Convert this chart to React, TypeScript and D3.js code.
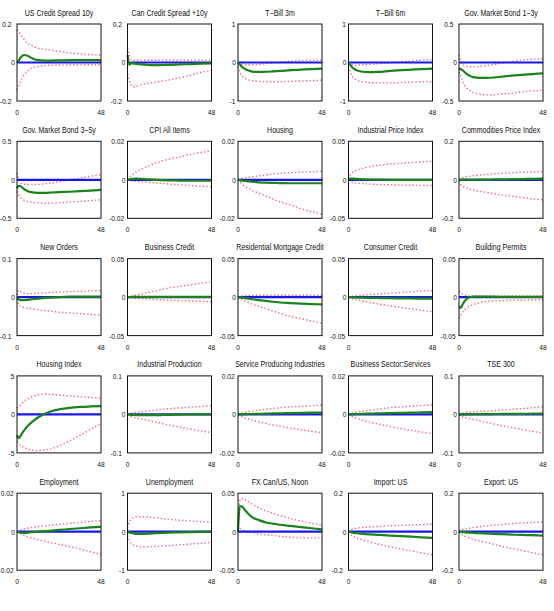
import React from "react";
import * as d3 from "d3";

const horizons = [0, 1, 2, 3, 4, 6, 8, 12, 16, 20, 24, 30, 36, 42, 48];

const titles = [
  "US Credit Spread 10y", "Can Credit Spread +10y", "T\u2212Bill 3m", "T\u2212Bill 6m", "Gov. Market Bond 1\u22123y",
  "Gov. Market Bond 3\u22125y", "CPI All Items", "Housing", "Industrial Price Index", "Commodities Price Index",
  "New Orders", "Business Credit", "Residential Mortgage Credit", "Consumer Credit", "Building Permits",
  "Housing Index", "Industrial Production", "Service Producing Industries", "Business Sector:Services", "TSE 300",
  "Employment", "Unemployment", "FX Can/US, Noon", "Import: US", "Export: US",
];

// symmetric y-axis limit for each panel
const yLimits = [
  0.2, 0.2, 1, 1, 0.5,
  0.5, 0.02, 0.02, 0.05, 0.2,
  0.1, 0.05, 0.05, 0.05, 0.05,
  5, 0.1, 0.02, 0.02, 0.1,
  0.02, 1, 0.05, 0.2, 0.2,
];

// median response (green)
const median = [
  [0, 0.01, 0.025, 0.035, 0.039, 0.035, 0.025, 0.012, 0.01, 0.01, 0.011, 0.012, 0.012, 0.012, 0.012],
  [0.04, -0.012, -0.005, -0.005, -0.006, -0.008, -0.01, -0.013, -0.014, -0.013, -0.012, -0.01, -0.008, -0.006, -0.005],
  [0, -0.05, -0.1, -0.14, -0.17, -0.21, -0.235, -0.245, -0.24, -0.23, -0.22, -0.2, -0.185, -0.17, -0.16],
  [0, -0.06, -0.12, -0.16, -0.19, -0.22, -0.24, -0.25, -0.245, -0.235, -0.22, -0.2, -0.185, -0.17, -0.16],
  [-0.08, -0.087, -0.1, -0.12, -0.14, -0.17, -0.19, -0.2, -0.2, -0.195, -0.185, -0.17, -0.16, -0.15, -0.14],
  [-0.11, -0.08, -0.085, -0.1, -0.12, -0.145, -0.16, -0.17, -0.17, -0.165, -0.16, -0.155, -0.148, -0.14, -0.13],
  [0, 0.0002, 0.0004, 0.0005, 0.0006, 0.0006, 0.0005, 0.0002, 0, -0.0002, -0.0003, -0.0004, -0.0005, -0.0005, -0.0005],
  [0, -0.0002, -0.0004, -0.0005, -0.0006, -0.0008, -0.001, -0.0013, -0.0015, -0.0016, -0.0017, -0.0018, -0.0018, -0.0018, -0.0018],
  [0.001, 0.0015, 0.0015, 0.0015, 0.0013, 0.001, 0.0007, 0.0004, 0.0002, 0.0001, 0, 0, 0, 0, 0],
  [0, 0, 0.001, 0.001, 0.001, 0.001, 0.001, 0.001, 0.001, 0.002, 0.002, 0.003, 0.004, 0.005, 0.006],
  [0, -0.006, -0.008, -0.008, -0.008, -0.007, -0.006, -0.004, -0.002, -0.001, 0, 0.001, 0.001, 0.001, 0.001],
  [0, 0, 0.0002, 0.0003, 0.0003, 0.0003, 0.0003, 0.0003, 0.0003, 0.0003, 0.0003, 0.0003, 0.0003, 0.0003, 0.0003],
  [0, -0.0003, -0.0006, -0.001, -0.0013, -0.002, -0.0027, -0.004, -0.005, -0.006, -0.007, -0.0078, -0.0085, -0.009, -0.0095],
  [0, 0, -0.0002, -0.0003, -0.0004, -0.0006, -0.0008, -0.001, -0.0012, -0.0014, -0.0015, -0.0017, -0.0018, -0.0019, -0.002],
  [-0.012, -0.014, -0.01, -0.006, -0.003, 0, 0.0005, 0.0005, 0.0005, 0.0005, 0.0003, 0.0002, 0.0002, 0.0002, 0.0002],
  [-2.7, -3.1, -2.8, -2.4, -2.1, -1.55, -1.1, -0.4, 0.1, 0.45, 0.65, 0.85, 0.97, 1.03, 1.07],
  [0, 0, -0.001, -0.001, -0.0015, -0.002, -0.002, -0.002, -0.002, -0.0015, -0.001, -0.0005, 0, 0, 0],
  [0, 0, 0, 0.0001, 0.0001, 0.0002, 0.0002, 0.0003, 0.0004, 0.0005, 0.0006, 0.0007, 0.0008, 0.0009, 0.001],
  [0, 0, 0.0001, 0.0001, 0.0002, 0.0002, 0.0003, 0.0004, 0.0005, 0.0006, 0.0007, 0.0008, 0.0009, 0.0011, 0.0012],
  [0, 0, 0, 0, 0.0002, 0.0003, 0.0004, 0.0006, 0.0008, 0.001, 0.0012, 0.0014, 0.0016, 0.0018, 0.002],
  [0, -0.0003, -0.0005, -0.0006, -0.0006, -0.0005, -0.0003, 0, 0.0003, 0.0006, 0.0009, 0.0014, 0.0018, 0.0022, 0.0026],
  [0, -0.02, -0.03, -0.04, -0.05, -0.055, -0.055, -0.05, -0.04, -0.03, -0.025, -0.015, -0.01, -0.005, 0],
  [0, 0.033, 0.033, 0.031, 0.028, 0.023, 0.019, 0.015, 0.012, 0.0105, 0.009, 0.0075, 0.006, 0.0045, 0.003],
  [0, -0.002, -0.004, -0.006, -0.007, -0.009, -0.011, -0.014, -0.016, -0.018, -0.02, -0.023, -0.026, -0.029, -0.032],
  [0, -0.001, -0.002, -0.003, -0.004, -0.005, -0.006, -0.008, -0.01, -0.012, -0.013, -0.015, -0.017, -0.018, -0.02],
];

// upper band (red dotted)
const upper = [
  [0.17, 0.16, 0.145, 0.134, 0.122, 0.1, 0.09, 0.074, 0.068, 0.063, 0.058, 0.05, 0.045, 0.041, 0.039],
  [0.075, 0.04, 0.015, 0.012, 0.012, 0.012, 0.012, 0.012, 0.012, 0.012, 0.012, 0.012, 0.012, 0.012, 0.012],
  [0, -0.02, -0.04, -0.05, -0.055, -0.06, -0.06, -0.05, -0.03, -0.01, 0.01, 0.03, 0.045, 0.055, 0.06],
  [0, -0.04, -0.06, -0.07, -0.07, -0.065, -0.06, -0.05, -0.035, -0.02, -0.005, 0.015, 0.04, 0.06, 0.07],
  [0.1, 0.03, -0.02, -0.04, -0.05, -0.055, -0.055, -0.05, -0.04, -0.025, -0.01, 0.01, 0.03, 0.042, 0.05],
  [0.09, 0, -0.04, -0.05, -0.055, -0.06, -0.06, -0.06, -0.05, -0.04, -0.025, -0.005, 0.02, 0.045, 0.065],
  [0, 0.001, 0.002, 0.0027, 0.0035, 0.0045, 0.0055, 0.0072, 0.0087, 0.0098, 0.0108, 0.012, 0.0132, 0.0142, 0.015],
  [0, 0.0003, 0.0006, 0.0008, 0.001, 0.0013, 0.0015, 0.002, 0.0025, 0.003, 0.0033, 0.0037, 0.004, 0.0042, 0.0044],
  [0.001, 0.006, 0.009, 0.011, 0.012, 0.0135, 0.0148, 0.017, 0.0185, 0.0195, 0.0205, 0.0215, 0.0225, 0.0233, 0.024],
  [0.002, 0.008, 0.011, 0.013, 0.015, 0.018, 0.021, 0.025, 0.028, 0.031, 0.033, 0.036, 0.039, 0.041, 0.043],
  [0.005, 0.018, 0.015, 0.012, 0.01, 0.009, 0.009, 0.01, 0.011, 0.012, 0.013, 0.014, 0.015, 0.016, 0.017],
  [0, 0.0005, 0.001, 0.0015, 0.002, 0.003, 0.004, 0.006, 0.008, 0.01, 0.012, 0.014, 0.016, 0.018, 0.02],
  [0, 0.0008, 0.0012, 0.0015, 0.0017, 0.002, 0.0022, 0.0024, 0.0025, 0.0025, 0.0025, 0.0025, 0.0025, 0.0025, 0.0025],
  [0, 0.0005, 0.001, 0.0013, 0.0016, 0.002, 0.0025, 0.0033, 0.004, 0.0047, 0.0053, 0.006, 0.007, 0.0078, 0.0085],
  [0.008, 0.006, 0.004, 0.003, 0.002, 0.0015, 0.0015, 0.0015, 0.0015, 0.0015, 0.0015, 0.0015, 0.0015, 0.0015, 0.0015],
  [0.8, 0.95, 1.2, 1.45, 1.7, 2.0, 2.25, 2.55, 2.65, 2.6, 2.5, 2.4, 2.3, 2.2, 2.1],
  [0, 0.002, 0.003, 0.004, 0.005, 0.006, 0.007, 0.009, 0.011, 0.013, 0.015, 0.017, 0.019, 0.021, 0.023],
  [0, 0.0003, 0.0006, 0.0008, 0.001, 0.0014, 0.0017, 0.0022, 0.0027, 0.0031, 0.0035, 0.0039, 0.0042, 0.0045, 0.0048],
  [0, 0.0003, 0.0006, 0.0008, 0.001, 0.0014, 0.0017, 0.0022, 0.0027, 0.0031, 0.0035, 0.0039, 0.0043, 0.0046, 0.005],
  [0, 0.002, 0.003, 0.004, 0.005, 0.006, 0.007, 0.008, 0.009, 0.01, 0.011, 0.013, 0.015, 0.017, 0.02],
  [0, 0.0004, 0.0008, 0.0011, 0.0014, 0.0018, 0.0021, 0.0026, 0.003, 0.0034, 0.0038, 0.0043, 0.0048, 0.0053, 0.0058],
  [0.1, 0.25, 0.32, 0.36, 0.38, 0.39, 0.39, 0.38, 0.36, 0.34, 0.32, 0.3, 0.28, 0.26, 0.25],
  [0.002, 0.04, 0.043, 0.043, 0.042, 0.039, 0.036, 0.031, 0.027, 0.024, 0.021, 0.017, 0.014, 0.011, 0.008],
  [0, 0.008, 0.012, 0.015, 0.017, 0.02, 0.022, 0.025, 0.027, 0.029, 0.031, 0.033, 0.035, 0.037, 0.039],
  [0, 0.006, 0.01, 0.013, 0.015, 0.018, 0.021, 0.026, 0.03, 0.034, 0.037, 0.041, 0.045, 0.048, 0.051],
];

// lower band (red dotted)
const lower = [
  [-0.14, -0.126, -0.1, -0.08, -0.065, -0.045, -0.03, -0.02, -0.016, -0.014, -0.013, -0.012, -0.012, -0.012, -0.012],
  [-0.06, -0.09, -0.115, -0.126, -0.125, -0.12, -0.115, -0.108, -0.102, -0.096, -0.09, -0.078, -0.066, -0.052, -0.04],
  [-0.1, -0.25, -0.33, -0.38, -0.41, -0.45, -0.47, -0.49, -0.5, -0.5, -0.5, -0.49, -0.48, -0.47, -0.46],
  [-0.1, -0.25, -0.35, -0.41, -0.44, -0.48, -0.5, -0.52, -0.53, -0.53, -0.53, -0.52, -0.51, -0.5, -0.5],
  [-0.12, -0.17, -0.24, -0.29, -0.32, -0.36, -0.39, -0.41, -0.42, -0.42, -0.41, -0.4, -0.38, -0.37, -0.36],
  [-0.15, -0.2, -0.23, -0.25, -0.265, -0.28, -0.29, -0.3, -0.305, -0.305, -0.3, -0.29, -0.28, -0.27, -0.26],
  [0, -0.0003, -0.0005, -0.0006, -0.0007, -0.0009, -0.001, -0.0013, -0.0016, -0.0019, -0.0022, -0.0026, -0.003, -0.0033, -0.0036],
  [0, -0.001, -0.002, -0.0028, -0.0035, -0.0045, -0.0055, -0.007, -0.0085, -0.01, -0.0114, -0.013, -0.015, -0.0165, -0.018],
  [0, -0.002, -0.003, -0.0035, -0.004, -0.0045, -0.005, -0.0055, -0.006, -0.0063, -0.0066, -0.0069, -0.0071, -0.0073, -0.0075],
  [-0.005, -0.025, -0.033, -0.039, -0.043, -0.049, -0.053, -0.06, -0.066, -0.072, -0.078, -0.085, -0.092, -0.098, -0.104],
  [-0.005, -0.02, -0.024, -0.026, -0.027, -0.029, -0.03, -0.033, -0.035, -0.037, -0.039, -0.041, -0.043, -0.045, -0.047],
  [0, -0.0005, -0.001, -0.0012, -0.0014, -0.0017, -0.002, -0.0025, -0.003, -0.0035, -0.004, -0.0045, -0.005, -0.0055, -0.006],
  [0, -0.0015, -0.003, -0.004, -0.005, -0.007, -0.009, -0.012, -0.015, -0.018, -0.021, -0.025, -0.028, -0.031, -0.034],
  [0, -0.001, -0.0018, -0.0025, -0.003, -0.004, -0.005, -0.0068, -0.0085, -0.01, -0.0115, -0.0135, -0.0155, -0.0172, -0.019],
  [-0.028, -0.024, -0.02, -0.017, -0.015, -0.012, -0.01, -0.007, -0.0055, -0.005, -0.0045, -0.004, -0.004, -0.0035, -0.0035],
  [-3.5, -3.8, -4.0, -4.15, -4.3, -4.45, -4.6, -4.7, -4.6, -4.45, -4.1, -3.45, -2.7, -1.95, -1.2],
  [0, -0.003, -0.005, -0.007, -0.008, -0.01, -0.012, -0.016, -0.02, -0.024, -0.028, -0.033, -0.038, -0.043, -0.047],
  [0, -0.0005, -0.001, -0.0014, -0.0018, -0.0024, -0.003, -0.0039, -0.0047, -0.0055, -0.0062, -0.0071, -0.008, -0.0088, -0.0095],
  [0, -0.0005, -0.001, -0.0014, -0.0018, -0.0024, -0.003, -0.004, -0.0048, -0.0056, -0.0064, -0.0074, -0.0083, -0.0092, -0.01],
  [0, -0.004, -0.006, -0.008, -0.009, -0.011, -0.013, -0.017, -0.021, -0.025, -0.029, -0.034, -0.039, -0.044, -0.048],
  [0, -0.0006, -0.0011, -0.0016, -0.002, -0.0027, -0.0033, -0.0042, -0.005, -0.0058, -0.0066, -0.0078, -0.009, -0.0104, -0.0118],
  [-0.1, -0.22, -0.3, -0.34, -0.36, -0.38, -0.39, -0.39, -0.38, -0.37, -0.36, -0.34, -0.32, -0.3, -0.28],
  [0, 0.004, 0.003, 0.002, 0.001, 0, -0.001, -0.003, -0.004, -0.005, -0.006, -0.007, -0.008, -0.008, -0.008],
  [0, -0.012, -0.02, -0.026, -0.03, -0.037, -0.043, -0.053, -0.062, -0.071, -0.079, -0.09, -0.1, -0.11, -0.12],
  [0, -0.01, -0.017, -0.022, -0.026, -0.032, -0.038, -0.048, -0.057, -0.066, -0.075, -0.087, -0.098, -0.109, -0.12],
];

const W = 554;
const H = 611;
const font = "'Liberation Sans', Arial, sans-serif";
const TITLE_FS = 8.6;
const TICK_FS = 8.1;
const NARROW = 0.82; // condensed look of the original labels

const fmt = (v: number) => (v < 0 ? "-" + String(-v) : String(v));

// text squeezed horizontally around its anchor point
const Label = ({ x, y, anchor, size, children }: { x: number; y: number; anchor: string; size: number; children: React.ReactNode }) => (
  <text transform={`translate(${x},${y}) scale(${NARROW},1)`} textAnchor={anchor} fontSize={size}>
    {children}
  </text>
);

const Panel = ({ idx }: { idx: number }) => {
  const col = idx % 5;
  const row = Math.floor(idx / 5);
  const left = 17 + 110.5 * col;
  const top = 24 + 117.3 * row;
  const pw = 84;
  const ph = 77;
  const m = yLimits[idx];

  const x = d3.scaleLinear().domain([0, 48]).range([left, left + pw]);
  const y = d3.scaleLinear().domain([-m, m]).range([top + ph, top]);

  const line = d3
    .line<number>()
    .x((_, i) => x(horizons[i]))
    .y((d) => y(d))
    .curve(d3.curveMonotoneX);

  const zeros = horizons.map(() => 0);

  // labels with one decimal sit further left (as if padded to two decimals)
  const labelEnd = (t: number) => {
    if (t === 0) return left - 2;
    const s = String(Math.abs(t));
    const dec = s.includes(".") ? s.split(".")[1].length : 0;
    if (dec === 1) return left - 5.6;
    if (dec === 2) return left - 3.4;
    return left - 2.6;
  };

  return (
    <g>
      <Label x={left + pw / 2} y={top - 8.5} anchor="middle" size={TITLE_FS}>
        {titles[idx]}
      </Label>
      {[-m, 0, m].map((t) => (
        <Label key={t} x={labelEnd(t)} y={y(t) + 2.9} anchor="end" size={TICK_FS}>
          {fmt(t)}
        </Label>
      ))}
      {[0, 48].map((t) => (
        <Label key={t} x={x(t)} y={top + ph + 14} anchor="middle" size={TICK_FS}>
          {t}
        </Label>
      ))}
      <path d={line(upper[idx]) || ""} fill="none" stroke="#ef6b7b" strokeWidth={1.4} strokeDasharray="1.4 2.2" />
      <path d={line(lower[idx]) || ""} fill="none" stroke="#ef6b7b" strokeWidth={1.4} strokeDasharray="1.4 2.2" />
      <path d={line(zeros) || ""} fill="none" stroke="#1818e8" strokeWidth={2.2} />
      <path d={line(median[idx]) || ""} fill="none" stroke="#1a841a" strokeWidth={2.2} />
      <rect x={left} y={top} width={pw} height={ph} fill="none" stroke="#111" strokeWidth={1} />
    </g>
  );
};

export default function App() {
  return (
    <div style={{ position: "absolute", left: 0, top: 0, width: W, height: H, background: "#fff" }}>
      <svg width={W} height={H} fontFamily={font} fill="#111">
        {titles.map((_, i) => (
          <Panel key={i} idx={i} />
        ))}
      </svg>
    </div>
  );
}
